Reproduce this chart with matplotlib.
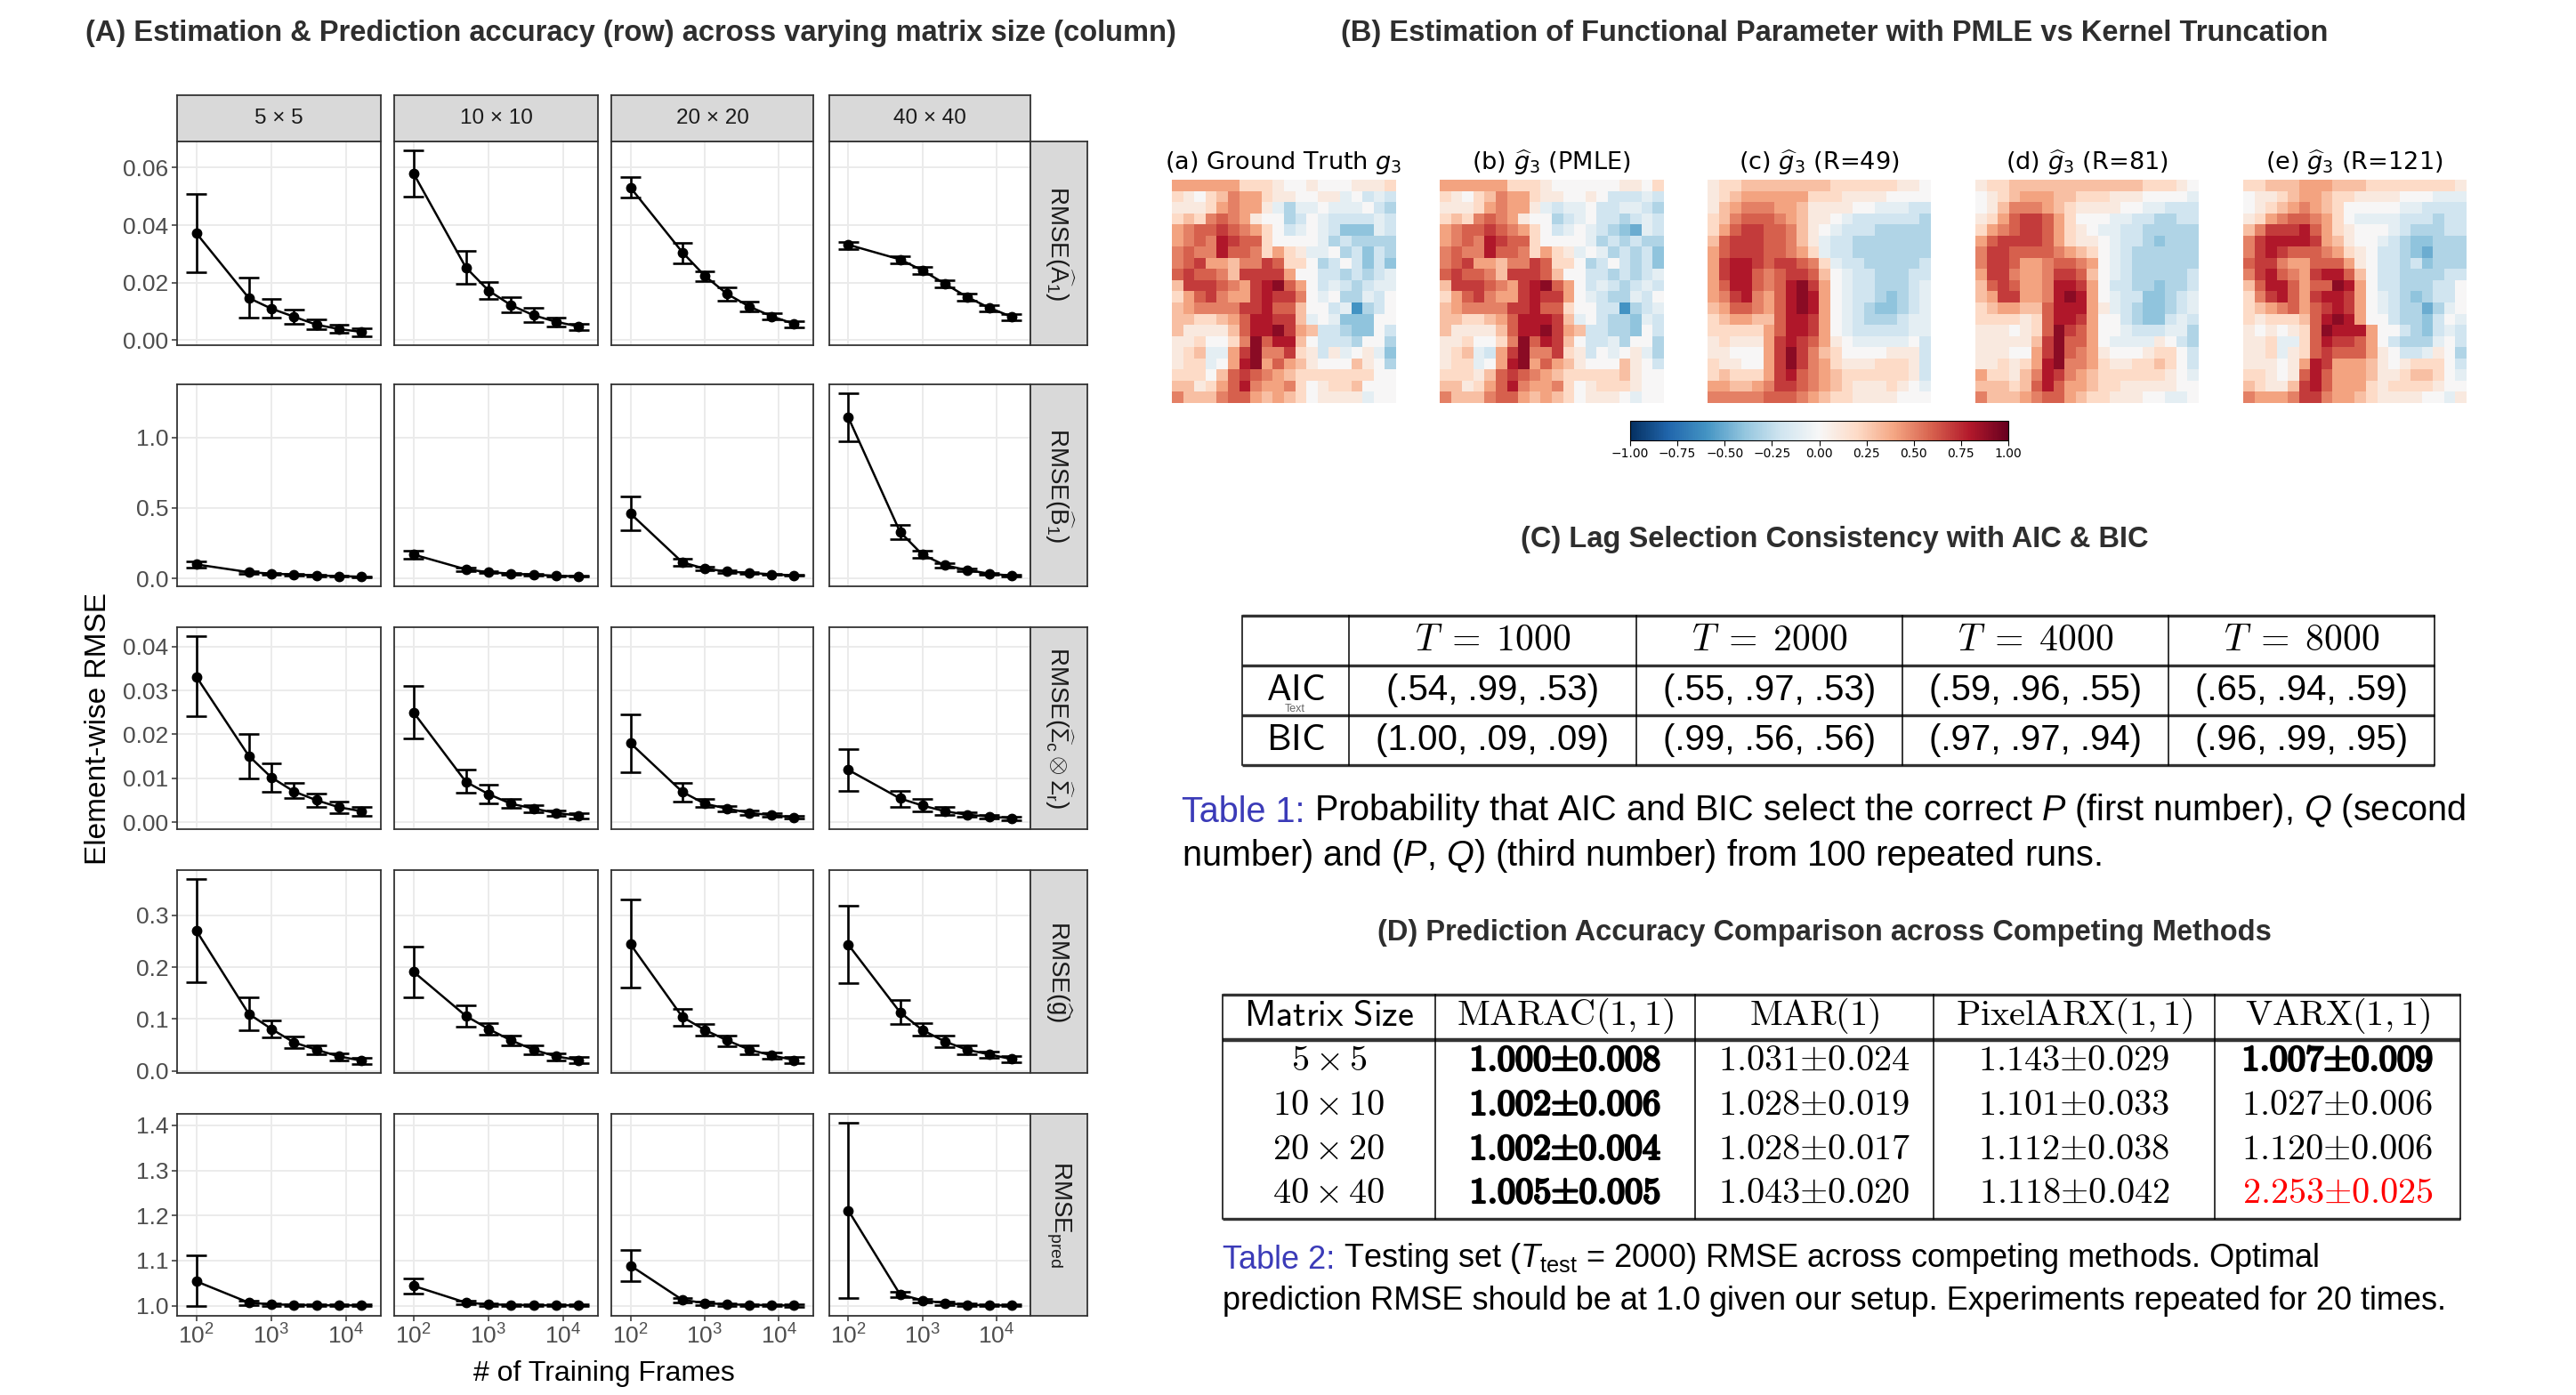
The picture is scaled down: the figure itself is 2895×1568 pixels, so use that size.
"""Composite figure: facet grid of RMSE curves, g3 heatmaps and two result tables."""

import numpy as np
import matplotlib

matplotlib.use("Agg")
import matplotlib.pyplot as plt
import matplotlib.patheffects as pe
from matplotlib.ticker import FixedLocator, NullLocator

plt.rcParams["font.family"] = ["Liberation Sans", "DejaVu Sans"]
plt.rcParams["mathtext.fontset"] = "custom"
plt.rcParams["mathtext.rm"] = "Liberation Sans"
plt.rcParams["mathtext.it"] = "Liberation Sans:italic"
plt.rcParams["mathtext.bf"] = "Liberation Sans:bold"

W, H = 2895, 1568

# ---- (A) facet grid data ---------------------------------------------------
frames = [100, 500, 1000, 2000, 4000, 8000, 16000]
size_labels = ["5 \u00d7 5", "10 \u00d7 10", "20 \u00d7 20", "40 \u00d7 40"]
row_labels = [
    r"RMSE($\widehat{\mathrm{A}}_1$)",
    r"RMSE($\widehat{\mathrm{B}}_1$)",
    r"RMSE($\widehat{\Sigma}_\mathrm{c}\otimes\widehat{\Sigma}_\mathrm{r}$)",
    r"RMSE($\widehat{\mathrm{g}}$)",
    r"RMSE$_{\mathrm{pred}}$",
]

a1_mean = [[0.0372, 0.0147, 0.0110, 0.0082, 0.0054, 0.0039, 0.0029],
           [0.0580, 0.0253, 0.0173, 0.0122, 0.0087, 0.0064, 0.0048],
           [0.0531, 0.0306, 0.0224, 0.0161, 0.0117, 0.0083, 0.0057],
           [0.0332, 0.0281, 0.0243, 0.0197, 0.0151, 0.0113, 0.0082]]
a1_lo = [[0.0237, 0.0080, 0.0078, 0.0057, 0.0037, 0.0026, 0.0015],
         [0.0500, 0.0197, 0.0143, 0.0097, 0.0062, 0.0049, 0.0036],
         [0.0495, 0.0268, 0.0207, 0.0136, 0.0100, 0.0071, 0.0044],
         [0.0316, 0.0268, 0.0230, 0.0184, 0.0138, 0.0100, 0.0069]]
a1_hi = [[0.0508, 0.0217, 0.0143, 0.0105, 0.0074, 0.0054, 0.0042],
         [0.0659, 0.0311, 0.0202, 0.0150, 0.0113, 0.0080, 0.0057],
         [0.0569, 0.0340, 0.0241, 0.0184, 0.0134, 0.0093, 0.0067],
         [0.0343, 0.0291, 0.0255, 0.0209, 0.0163, 0.0123, 0.0092]]

b1_mean = [[0.10, 0.045, 0.035, 0.028, 0.022, 0.017, 0.013],
           [0.17, 0.065, 0.045, 0.035, 0.027, 0.020, 0.015],
           [0.46, 0.115, 0.070, 0.050, 0.040, 0.030, 0.022],
           [1.14, 0.330, 0.170, 0.095, 0.060, 0.035, 0.020]]
b1_lo = [[0.08, 0.035, 0.028, 0.022, 0.017, 0.013, 0.010],
         [0.14, 0.055, 0.038, 0.030, 0.023, 0.017, 0.012],
         [0.34, 0.090, 0.058, 0.042, 0.034, 0.025, 0.018],
         [0.97, 0.280, 0.145, 0.080, 0.050, 0.028, 0.015]]
b1_hi = [[0.12, 0.055, 0.042, 0.034, 0.027, 0.021, 0.016],
         [0.20, 0.075, 0.052, 0.040, 0.031, 0.023, 0.018],
         [0.58, 0.140, 0.082, 0.058, 0.046, 0.035, 0.026],
         [1.31, 0.380, 0.195, 0.110, 0.070, 0.042, 0.025]]

sig_mean = [[0.0331, 0.0151, 0.0102, 0.0070, 0.0050, 0.0034, 0.0025],
            [0.0250, 0.0092, 0.0064, 0.0042, 0.0031, 0.0021, 0.0015],
            [0.0180, 0.0069, 0.0042, 0.0031, 0.0021, 0.0016, 0.0011],
            [0.0119, 0.0054, 0.0038, 0.0025, 0.0017, 0.0013, 0.0009]]
sig_lo = [[0.0241, 0.0100, 0.0070, 0.0054, 0.0035, 0.0021, 0.0015],
          [0.0191, 0.0067, 0.0042, 0.0033, 0.0022, 0.0015, 0.0009],
          [0.0113, 0.0046, 0.0034, 0.0025, 0.0016, 0.0012, 0.0008],
          [0.0072, 0.0034, 0.0025, 0.0017, 0.0012, 0.0009, 0.0005]]
sig_hi = [[0.0423, 0.0201, 0.0135, 0.0090, 0.0065, 0.0047, 0.0034],
          [0.0311, 0.0119, 0.0085, 0.0052, 0.0039, 0.0027, 0.0021],
          [0.0246, 0.0090, 0.0052, 0.0037, 0.0026, 0.0020, 0.0014],
          [0.0167, 0.0072, 0.0052, 0.0034, 0.0022, 0.0017, 0.0013]]

g_mean = [[0.270, 0.110, 0.081, 0.055, 0.041, 0.028, 0.020],
          [0.191, 0.106, 0.081, 0.059, 0.041, 0.028, 0.021],
          [0.244, 0.104, 0.079, 0.059, 0.041, 0.030, 0.021],
          [0.243, 0.113, 0.079, 0.057, 0.041, 0.032, 0.023]]
g_lo = [[0.171, 0.078, 0.065, 0.044, 0.032, 0.021, 0.014],
        [0.141, 0.086, 0.070, 0.049, 0.033, 0.021, 0.015],
        [0.161, 0.087, 0.068, 0.048, 0.033, 0.023, 0.015],
        [0.169, 0.090, 0.068, 0.046, 0.033, 0.025, 0.016]]
g_hi = [[0.369, 0.142, 0.097, 0.067, 0.049, 0.034, 0.026],
        [0.240, 0.126, 0.092, 0.068, 0.049, 0.034, 0.027],
        [0.330, 0.120, 0.091, 0.069, 0.049, 0.036, 0.027],
        [0.318, 0.136, 0.092, 0.068, 0.050, 0.038, 0.029]]

pred_mean = [[1.054, 1.007, 1.003, 1.002, 1.001, 1.001, 1.001],
             [1.044, 1.007, 1.003, 1.002, 1.001, 1.001, 1.001],
             [1.089, 1.013, 1.006, 1.003, 1.002, 1.001, 1.0005],
             [1.211, 1.025, 1.012, 1.006, 1.002, 1.001, 1.001]]
pred_lo = [[0.9985, 1.001, 1.000, 0.999, 0.999, 0.999, 0.999],
           [1.027, 1.003, 1.000, 1.000, 0.999, 0.999, 0.999],
           [1.055, 1.008, 1.002, 1.000, 0.999, 0.999, 0.998],
           [1.018, 1.019, 1.007, 1.002, 0.999, 0.999, 0.999]]
pred_hi = [[1.111, 1.012, 1.006, 1.004, 1.003, 1.003, 1.003],
           [1.060, 1.012, 1.006, 1.004, 1.003, 1.003, 1.003],
           [1.123, 1.017, 1.010, 1.006, 1.004, 1.003, 1.003],
           [1.405, 1.031, 1.016, 1.010, 1.005, 1.003, 1.003]]

row_ticks = [[0.00, 0.02, 0.04, 0.06], [0.0, 0.5, 1.0],
             [0.00, 0.01, 0.02, 0.03, 0.04], [0.0, 0.1, 0.2, 0.3],
             [1.0, 1.1, 1.2, 1.3, 1.4]]
row_fmt = ["{:.2f}", "{:.1f}", "{:.2f}", "{:.1f}", "{:.1f}"]

# ---- (B) heatmaps: digit = +0.d, letter a..i = -0.1..-0.9 --------------------
truth_rows = [
    "44444422210010001112", "210235442110011a0bab", "111245441acaa0aaa0bc",
    "2325654100cb0abbbbab", "4566765420ba0abdddab", "4565876620000acbcccc",
    "565586652421aa0cbdbc", "5674435576220cb0bdbd", "6766537777400bbcbcba",
    "3777654789640babcbaa", "2467544787750a0ccab0", "34555577866300bafcb0",
    "332234688773a0addd00", "3111136889743bbcdd0b", "1120025968830bbbc00c",
    "123aa47955721b1a01ad", "122a048946431000310c", "22203676543222222200",
    "33124685445201223000", "53335664343201111a00",
]
pmle_rows = [
    "44444422210000001102", "210235442110010bbbab", "111245441abaa0bbaabc",
    "2325654100cba0bbcbab", "4566765420ba0abcdeab", "4565876620000acbcbcc",
    "565586652421a0acbcbd", "5674435576220cb0bcbd", "6766537776300bbcbcba",
    "3777654789640babcbab", "2467544787740abccab0", "34555577866200bbfcba",
    "332234688873a0bccdab", "3111136889743bbccd0b", "1120025968730bbac00c",
    "123ab47955721b0a01ac", "122a048946431000310b", "22213676543222223100",
    "33124685445201222100", "53335664343201110a00",
]
r49_rows = [
    "12233333333222222110", "12344444422211110000", "134555443111100aaabb",
    "235666543110abbbbbbc", "24677665310abbbccccc", "3677766531abbccccccc",
    "4677766542abbccccccc", "47887677652abbcccccb", "478865677630abbcccbb",
    "468865689740abbcccba", "457854689840abbcdcba", "346654689840abcddcba",
    "234433688740abcccbaa", "222224688740abbbbbaa", "1211147876410aaaaa0b",
    "1100047975320000111b", "2110047975421112221b", "2322247865432222221b",
    "4433457765432111210a", "55555666543221111000",
]
r81_rows = [
    "12233333333333322210", "0123444332221110000a", "013555432111100aabbb",
    "124677642000aabbccbb", "24567764210aabbccccc", "467777642110abbcdccc",
    "577666654320abcccccc", "577644566540abcccccc", "477544577630abcccccb",
    "367644588740bbccdccb", "347744589840abbddcba", "234433688841abcddcba",
    "2222126887400bcddbab", "1110126976400abbbaac", "111113796640aaaa10bc",
    "1110047965410001220b", "1121248955421122320b", "4221358754322222210a",
    "33323686443221111100", "53334566432211100aa0",
]
r121_rows = [
    "22333444333222222221", "01123443221111000aaa", "01234543200000aabbbb",
    "1245665420aaaabbbcbb", "3577786421000abcccbb", "578888743100abcddccc",
    "578766654210bbcdeccc", "677544666410bbcbdccc", "578654788630bbccccbb",
    "368864669840bbcccbb0", "257864788740abcdcbb0", "234564678740abcceca0",
    "2122236898400bccdb0a", "10101269888400bcdbab", "112aa26877640bccca0b",
    "112a1267666410bba10c", "1110148744431012220b", "2210168644431123320a",
    "32113786444212222100", "544457754432111100a1",
]
heat_titles = [
    r"(a) Ground Truth $g_3$",
    r"(b) $\widehat{g}_3$ (PMLE)",
    r"(c) $\widehat{g}_3$ (R=49)",
    r"(d) $\widehat{g}_3$ (R=81)",
    r"(e) $\widehat{g}_3$ (R=121)",
]
cbar_ticks = [-1.0, -0.75, -0.5, -0.25, 0.0, 0.25, 0.5, 0.75, 1.0]

# ---- (C) table -------------------------------------------------------------
t1_T = [1000, 2000, 4000, 8000]
t1_rows = ["AIC", "BIC"]
t1_aic = [(0.54, 0.99, 0.53), (0.55, 0.97, 0.53), (0.59, 0.96, 0.55), (0.65, 0.94, 0.59)]
t1_bic = [(1.00, 0.09, 0.09), (0.99, 0.56, 0.56), (0.97, 0.97, 0.94), (0.96, 0.99, 0.95)]

# ---- (D) table -------------------------------------------------------------
t2_methods = ["MARAC", "MAR", "PixelARX", "VARX"]
t2_orders = ["(1,1)", "(1)", "(1,1)", "(1,1)"]
t2_sizes = ["5 \u00d7 5", "10 \u00d7 10", "20 \u00d7 20", "40 \u00d7 40"]
t2_mean = [[1.000, 1.031, 1.143, 1.007],
           [1.002, 1.028, 1.101, 1.027],
           [1.002, 1.028, 1.112, 1.120],
           [1.005, 1.043, 1.118, 2.253]]
t2_sd = [[0.008, 0.024, 0.029, 0.009],
         [0.006, 0.019, 0.033, 0.006],
         [0.004, 0.017, 0.038, 0.006],
         [0.005, 0.020, 0.042, 0.025]]
t2_bold = [[1, 0, 0, 1], [1, 0, 0, 0], [1, 0, 0, 0], [1, 0, 0, 0]]
t2_red = [[0, 0, 0, 0], [0, 0, 0, 0], [0, 0, 0, 0], [0, 0, 0, 1]]

INK = "#1A1A1A"
BORDER = "#333333"
TITLE = "#2E2E2E"
BLUE = "#3B3BB8"
TITLE_SIZE = 23.5


def frac(x0, y0, x1, y1):
    return [x0 / W, 1 - y1 / H, (x1 - x0) / W, (y1 - y0) / H]


def decode(rows):
    out = []
    for row in rows:
        vals = []
        for ch in row:
            vals.append(int(ch) / 10 if ch.isdigit() else -(ord(ch) - 96) / 10)
        out.append(vals)
    return np.array(out)


fig = plt.figure(figsize=(W / 100, H / 100), dpi=100, facecolor="white")
ov = fig.add_axes([0, 0, 1, 1])
ov.set_xlim(0, W)
ov.set_ylim(H, 0)
ov.axis("off")

# ---- (A) -------------------------------------------------------------------
col_x = [(199, 428), (443, 672), (687, 914), (932, 1158)]
row_y = [(159, 388), (432, 659), (705, 932), (978, 1206), (1252, 1479)]
metrics = [(a1_mean, a1_lo, a1_hi), (b1_mean, b1_lo, b1_hi),
           (sig_mean, sig_lo, sig_hi), (g_mean, g_lo, g_hi),
           (pred_mean, pred_lo, pred_hi)]
x = np.array(frames, dtype=float)
cap = 10 ** 0.134

for r, (means, los, his) in enumerate(metrics):
    ymin = np.min(los)
    ymax = np.max(his)
    pad = 0.05 * (ymax - ymin)
    for c in range(4):
        ax = fig.add_axes(frac(col_x[c][0], row_y[r][0], col_x[c][1], row_y[r][1]))
        ax.set_xscale("log")
        ax.set_xlim(10 ** 1.742, 10 ** 4.462)
        ax.set_ylim(ymin - pad, ymax + pad)
        ax.xaxis.set_major_locator(FixedLocator([1e2, 1e3, 1e4]))
        ax.xaxis.set_minor_locator(NullLocator())
        ax.yaxis.set_major_locator(FixedLocator(row_ticks[r]))
        ax.yaxis.set_minor_locator(NullLocator())
        ax.grid(True, color="#EBEBEB", lw=1.4)
        ax.set_axisbelow(True)
        for sp in ax.spines.values():
            sp.set_color(BORDER)
            sp.set_linewidth(1.3)
        ax.tick_params(length=4, width=1.1, color=BORDER, labelsize=19,
                       labelcolor="#4D4D4D", pad=3)
        if c == 0:
            ax.set_yticklabels([row_fmt[r].format(t) for t in row_ticks[r]])
        else:
            ax.tick_params(axis="y", left=False, labelleft=False)
        if r == 4:
            ax.set_xticklabels([r"$10^{2}$", r"$10^{3}$", r"$10^{4}$"])
        else:
            ax.tick_params(axis="x", bottom=False, labelbottom=False)

        m = np.array(means[c])
        lo = np.array(los[c])
        hi = np.array(his[c])
        ax.vlines(x, lo, hi, color="black", lw=1.9)
        ax.hlines(lo, x / cap, x * cap, color="black", lw=1.9)
        ax.hlines(hi, x / cap, x * cap, color="black", lw=1.9)
        ax.plot(x, m, "o-", color="black", lw=1.8, ms=7.5)

    sax = fig.add_axes(frac(1158, row_y[r][0], 1222, row_y[r][1]))
    sax.set_facecolor("#D9D9D9")
    sax.set_xticks([])
    sax.set_yticks([])
    for sp in sax.spines.values():
        sp.set_color(BORDER)
        sp.set_linewidth(1.3)
    sax.text(0.5, 0.5, row_labels[r], rotation=-90, ha="center", va="center",
             fontsize=20, color=INK, transform=sax.transAxes)

for c in range(4):
    sax = fig.add_axes(frac(col_x[c][0], 107, col_x[c][1], 159))
    sax.set_facecolor("#D9D9D9")
    sax.set_xticks([])
    sax.set_yticks([])
    for sp in sax.spines.values():
        sp.set_color(BORDER)
        sp.set_linewidth(1.3)
    sax.text(0.5, 0.5, size_labels[c], ha="center", va="center",
             fontsize=17.5, color=INK, transform=sax.transAxes)

ov.text(111, 819, "Element-wise RMSE", rotation=90, ha="center", va="center",
        fontsize=24, color="black")
ov.text(679, 1544, "# of Training Frames", ha="center", va="center",
        fontsize=23, color="black")
ov.text(96, 37, "(A) Estimation & Prediction accuracy (row) across varying matrix size (column)",
        ha="left", va="center", fontsize=TITLE_SIZE, weight="bold", color=TITLE)

# ---- (B) -------------------------------------------------------------------
ov.text(2062, 37, "(B) Estimation of Functional Parameter with PMLE vs Kernel Truncation",
        ha="center", va="center", fontsize=TITLE_SIZE, weight="bold", color=TITLE)
grids = [decode(truth_rows), decode(pmle_rows), decode(r49_rows),
         decode(r81_rows), decode(r121_rows)]
heat_x = [1317, 1618, 1919, 2220, 2521]
im = None
for i, grid in enumerate(grids):
    hax = fig.add_axes(frac(heat_x[i], 202, heat_x[i] + 251, 453))
    im = hax.imshow(grid, cmap="RdBu_r", vmin=-1, vmax=1, aspect="auto",
                    interpolation="nearest")
    hax.axis("off")
    ov.text(heat_x[i] + 125, 183, heat_titles[i], ha="center", va="center",
            fontsize=19.5, family="DejaVu Sans", math_fontfamily="dejavusans",
            color="black")

cax = fig.add_axes(frac(1832, 473, 2257, 495))
cb = fig.colorbar(im, cax=cax, orientation="horizontal", ticks=cbar_ticks)
cb.ax.set_xticklabels(["{:.2f}".format(t).replace("-", "\u2212") for t in cbar_ticks])
cb.ax.tick_params(labelsize=10, length=4, width=0.8, pad=2)
for lab in cb.ax.get_xticklabels():
    lab.set_family("DejaVu Sans")
cb.outline.set_linewidth(0.8)

# ---- (C) -------------------------------------------------------------------
ov.text(2062, 606, "(C) Lag Selection Consistency with AIC & BIC",
        ha="center", va="center", fontsize=TITLE_SIZE, weight="bold", color=TITLE)
t1_cols = [1396, 1516, 1839, 2138, 2437, 2736]
t1_lines = [692, 748, 804, 860]
for yy in t1_lines:
    ov.plot([t1_cols[0], t1_cols[-1]], [yy, yy], color=BORDER, lw=2.4,
            solid_capstyle="butt")
for xx in t1_cols:
    ov.plot([xx, xx], [t1_lines[0], t1_lines[-1]], color="black", lw=1.1)


def prob(v):
    s = "{:.2f}".format(v)
    return s[1:] if s.startswith("0") else s


for j, T in enumerate(t1_T):
    cx = (t1_cols[j + 1] + t1_cols[j + 2]) / 2
    ov.text(cx, 720, r"$T \;=\; %d$" % T, ha="center", va="center", fontsize=30,
            math_fontfamily="cm", color="black")
    for i, vals in enumerate([t1_aic[j], t1_bic[j]]):
        body = "(" + ", ".join(prob(v) for v in vals) + ")"
        ov.text(cx, 776 + 56 * i, body, ha="center", va="center", fontsize=29,
                color="black")
for i, lab in enumerate(t1_rows):
    ov.text((t1_cols[0] + t1_cols[1]) / 2, 776 + 56 * i, r"$\mathsf{%s}$" % lab,
            ha="center", va="center", fontsize=30, math_fontfamily="cm", color="black")
ov.text(1455, 797, "Text", ha="center", va="center", fontsize=9, color="#666666")


def caption(x0, y0, label, rest, size):
    t = ov.text(x0, y0, label, ha="left", va="center", fontsize=size, color=BLUE)
    ov.annotate(rest, xy=(1, 0), xycoords=t, ha="left", va="bottom",
                fontsize=size, color="black")


caption(1328, 913, "Table 1:",
        r" Probability that AIC and BIC select the correct $P$ (first number), $Q$ (second",
        28.5)
ov.text(1328, 962, r"number) and ($P$, $Q$) (third number) from 100 repeated runs.",
        ha="left", va="center", fontsize=28.5, color="black")

# ---- (D) -------------------------------------------------------------------
ov.text(2050, 1049, "(D) Prediction Accuracy Comparison across Competing Methods",
        ha="center", va="center", fontsize=TITLE_SIZE, weight="bold", color=TITLE)
t2_cols = [1374, 1613, 1905, 2173, 2489, 2765]
t2_row_y = [1192, 1242, 1292, 1341]
for yy, lw in [(1118, 2.4), (1169, 3.2), (1370, 2.4)]:
    ov.plot([t2_cols[0], t2_cols[-1]], [yy, yy], color=BORDER, lw=lw,
            solid_capstyle="butt")
for xx in t2_cols:
    ov.plot([xx, xx], [1118, 1370], color="black", lw=1.1)

ov.text((t2_cols[0] + t2_cols[1]) / 2, 1142, r"$\mathsf{Matrix\ Size}$", ha="center",
        va="center", fontsize=29, math_fontfamily="cm", color="black")
for j, meth in enumerate(t2_methods):
    cx = (t2_cols[j + 1] + t2_cols[j + 2]) / 2
    ov.text(cx, 1142, r"$\mathrm{%s}%s$" % (meth, t2_orders[j]), ha="center",
            va="center", fontsize=29, math_fontfamily="cm", color="black")
for i, lab in enumerate(t2_sizes):
    ov.text((t2_cols[0] + t2_cols[1]) / 2, t2_row_y[i],
            r"$\mathsf{%s}\times\mathsf{%s}$" % tuple(lab.split(" \u00d7 ")),
            ha="center", va="center", fontsize=29, math_fontfamily="cm", color="black")
    for j in range(4):
        cx = (t2_cols[j + 1] + t2_cols[j + 2]) / 2
        colr = "#FF0000" if t2_red[i][j] else "black"
        s = "$%.3f{\\pm}%.3f$" % (t2_mean[i][j], t2_sd[i][j])
        effects = None
        if t2_bold[i][j]:
            effects = [pe.withStroke(linewidth=1.8, foreground=colr)]
        ov.text(cx, t2_row_y[i], s, ha="center", va="center",
                fontsize=29, math_fontfamily="cm", color=colr, path_effects=effects)

caption(1374, 1416, "Table 2:",
        r" Testing set ($T_{\mathrm{test}}$ = 2000) RMSE across competing methods. Optimal",
        26)
ov.text(1374, 1462,
        "prediction RMSE should be at 1.0 given our setup. Experiments repeated for 20 times.",
        ha="left", va="center", fontsize=26, color="black")

fig.savefig("out.png", dpi=100, facecolor="white")
